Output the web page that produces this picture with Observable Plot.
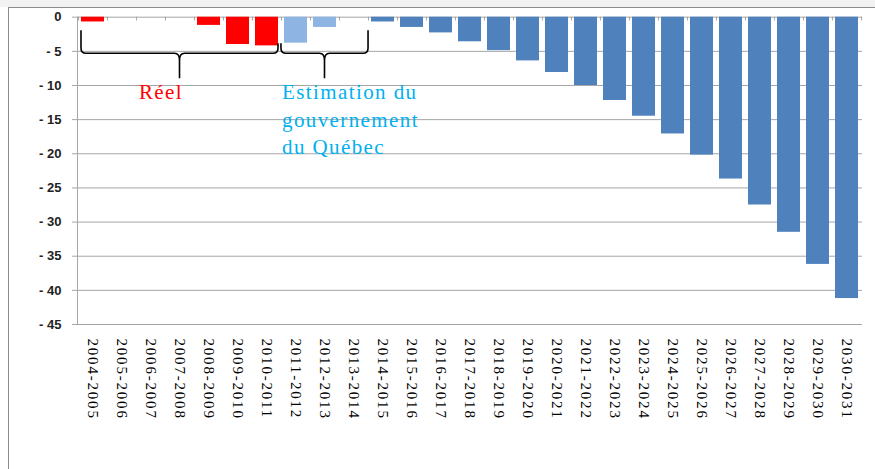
<!DOCTYPE html>
<html>
<head>
<meta charset="utf-8">
<script src="https://cdn.jsdelivr.net/npm/d3@7"></script>
<script src="https://cdn.jsdelivr.net/npm/@observablehq/plot@0.6"></script>
<style>
  html, body { margin: 0; padding: 0; background: #ffffff; }
  #wrap { position: relative; width: 875px; height: 469px; background: #ffffff; overflow: hidden; }
  #topband { position: absolute; left: 0; top: 0; width: 875px; height: 7px; background: #f2f2f2; }
  #frame { position: absolute; left: 8px; top: 7px; right: -2px; bottom: -2px; border-top: 1px solid #8c8c8c; border-left: 1px solid #8c8c8c; }
  #chart { position: absolute; left: 0; top: 0; }
  g[aria-label="x-axis tick label"] text { letter-spacing: 1.8px; }
  g[fill="#00b0f0"] text, g[fill="#ff0000"] text { letter-spacing: 1.4px; }
</style>
</head>
<body>
<div id="wrap">
  <div id="topband"></div>
  <div id="frame"></div>
  <div id="chart"></div>
</div>
<script>
// ---- data ----
const periods = [
  "2004-2005","2005-2006","2006-2007","2007-2008","2008-2009","2009-2010","2010-2011",
  "2011-2012","2012-2013","2013-2014",
  "2014-2015","2015-2016","2016-2017","2017-2018","2018-2019","2019-2020","2020-2021",
  "2021-2022","2022-2023","2023-2024","2024-2025","2025-2026","2026-2027","2027-2028",
  "2028-2029","2029-2030","2030-2031"
];
const values = [
  -0.7, 0, 0, 0, -1.2, -4.0, -4.2,
  -3.8, -1.5, 0,
  -0.7, -1.5, -2.3, -3.6, -4.9, -6.4, -8.1,
  -10.0, -12.2, -14.5, -17.1, -20.2, -23.7, -27.5,
  -31.5, -36.2, -41.2
];
const kinds = [
  "Réel","Réel","Réel","Réel","Réel","Réel","Réel",
  "Estimation","Estimation","Estimation",
  "Projection","Projection","Projection","Projection","Projection","Projection","Projection",
  "Projection","Projection","Projection","Projection","Projection","Projection","Projection",
  "Projection","Projection","Projection"
];
const kindNames = ["Réel", "Estimation", "Projection"];
const kindColors = ["#ff0000", "#8db4e2", "#4f81bd"];
const yTicks = [0, -5, -10, -15, -20, -25, -30, -35, -40, -45];
const annotationTexts = ["Réel", "Estimation du\ngouvernement\ndu Québec"];
const braceSpans = [["2004-2005", "2010-2011"], ["2011-2012", "2013-2014"]];

const data = periods.map((p, i) => ({period: p, value: values[i], kind: kinds[i]}));

// ---- layout ----
const W = 875, H = 469, mL = 77, mR = 13, mT = 16.7, mB = 145;
const step = (W - mL - mR) / periods.length;
const grey = "#a6a6a6";

function braces(index, scales) {
  const x = scales.x, y = scales.y;
  const bw = typeof x.bandwidth === "function" ? x.bandwidth() : step * 0.8;
  const gap = (step - bw) / 2;
  const g = d3.create("svg:g").attr("fill", "none").attr("stroke", "#000").attr("stroke-width", 1.6);
  braceSpans.forEach(([a, b], i) => {
    const xa = i === 0 ? x(a) : x(a) - gap;
    const xb = i === 0 ? x(b) + bw : x(b) + bw + gap;
    const ya = i === 0 ? y(-2) : y(-3.9);
    const yb = i === 0 ? y(-3.9) : y(-2);
    const yl = y(-5.35), yp = y(-9);
    const xm = (xa + xb) / 2;
    const r = 5;
    const path = [
      `M${xa},${ya}`, `L${xa},${yl - r}`, `Q${xa},${yl} ${xa + r},${yl}`,
      `L${xm - r},${yl}`, `Q${xm},${yl} ${xm},${yl + r + 2}`, `L${xm},${yp}`,
      `M${xm},${yl + r + 2}`, `Q${xm},${yl} ${xm + r},${yl}`,
      `L${xb - r},${yl}`, `Q${xb},${yl} ${xb},${yl - r}`, `L${xb},${yb}`
    ].join(" ");
    g.append("path").attr("d", path);
  });
  return g.node();
}

const chart = Plot.plot({
  width: W, height: H,
  marginLeft: mL, marginRight: mR, marginTop: mT, marginBottom: mB,
  style: {background: "transparent", fontFamily: "Liberation Serif", overflow: "visible"},
  x: {domain: periods, paddingInner: 0.2, paddingOuter: 0.1, label: null},
  y: {domain: [-45, 0], label: null},
  color: {domain: kindNames, range: kindColors},
  marks: [
    Plot.gridY(yTicks, {stroke: grey, strokeOpacity: 1}),
    Plot.frame({anchor: "left", stroke: grey}),
    Plot.barY(data, {x: "period", y: "value", fill: "kind"}),
    Plot.ruleX(periods, {x: d => d, y1: 0, y2: -0.55, dx: -step / 2, stroke: grey}),
    Plot.ruleX([periods[periods.length - 1]], {x: d => d, y1: 0, y2: -0.55, dx: step / 2, stroke: grey}),
    Plot.axisY({
      ticks: yTicks, tickSize: 5, tickPadding: 11,
      tickFormat: d => d === 0 ? "0" : "- " + Math.abs(d),
      stroke: grey, fill: "#222", fontFamily: "Liberation Sans", fontWeight: "bold", fontSize: 13
    }),
    Plot.axisX({
      anchor: "bottom", tickSize: 0, tickPadding: 14, tickRotate: 90,
      fill: "#000", fontFamily: "Liberation Serif", fontSize: 15
    }),
    braces,
    Plot.text([annotationTexts[0]], {
      x: () => "2006-2007", y: () => -11, text: d => d, dx: 10,
      fill: "#ff0000", fontSize: 21, fontFamily: "Liberation Serif", textAnchor: "middle"
    }),
    Plot.text([annotationTexts[1]], {
      x: () => "2011-2012", y: () => -14.7, text: d => d, dx: -14,
      fill: "#00b0f0", fontSize: 21, fontFamily: "Liberation Serif", textAnchor: "start",
      lineHeight: 1.33, lineAnchor: "middle"
    })
  ]
});
document.getElementById("chart").appendChild(chart);
</script>
</body>
</html>
